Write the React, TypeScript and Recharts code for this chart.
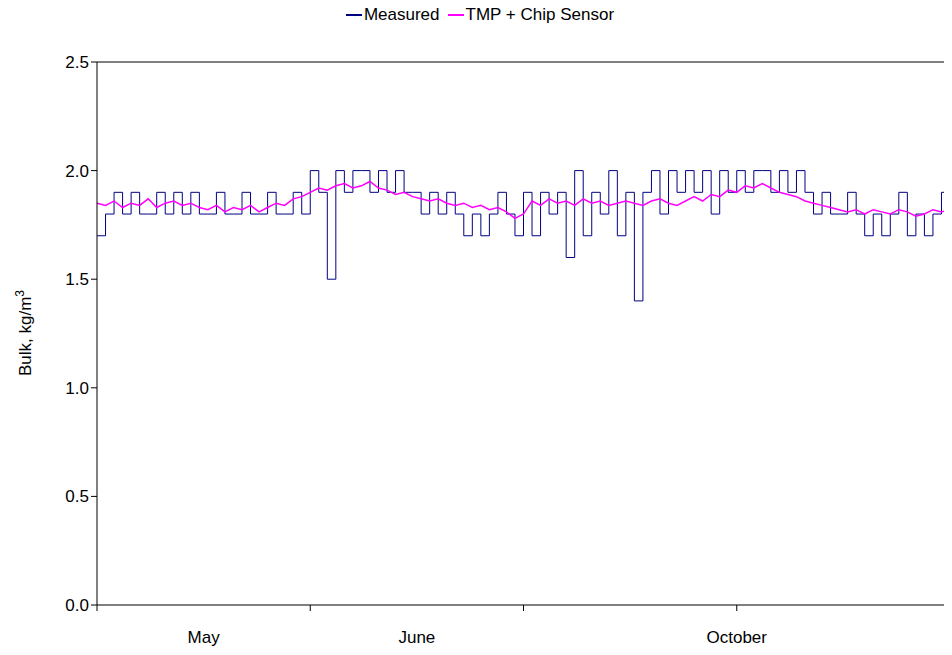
import React from "react";
import { ComposedChart, Line, XAxis, YAxis } from "recharts";

const measured = [1.7,1.8,1.9,1.8,1.9,1.8,1.8,1.9,1.8,1.9,1.8,1.9,1.8,
1.8,1.9,1.8,1.8,1.9,1.8,1.8,1.9,1.8,1.8,1.9,1.8,
2.0,1.9,1.5,2.0,1.9,2.0,2.0,1.9,2.0,1.9,2.0,1.9,
1.9,1.8,1.9,1.8,1.9,1.8,1.7,1.8,1.7,1.8,1.9,1.8,1.7,
1.9,1.7,1.9,1.8,1.9,1.6,2.0,1.7,1.9,1.8,2.0,1.7,1.9,
1.4,1.9,2.0,1.8,2.0,1.9,2.0,1.9,2.0,1.8,2.0,1.9,2.0,1.9,2.0,2.0,1.9,2.0,1.9,2.0,1.9,
1.8,1.9,1.8,1.8,1.9,1.8,1.7,1.8,1.7,1.8,1.9,1.7,1.8,1.7,1.8,1.9,1.8];
const model = [1.85,1.84,1.86,1.83,1.85,1.84,1.87,1.83,1.85,1.86,1.84,1.85,1.83,
1.82,1.84,1.81,1.83,1.82,1.84,1.81,1.83,1.85,1.84,1.87,1.88,
1.90,1.92,1.91,1.93,1.94,1.92,1.93,1.95,1.92,1.91,1.89,1.90,
1.88,1.87,1.86,1.87,1.85,1.84,1.85,1.83,1.84,1.82,1.83,1.81,1.78,
1.80,1.86,1.84,1.87,1.85,1.86,1.84,1.87,1.85,1.86,1.84,1.85,1.86,
1.85,1.84,1.86,1.87,1.85,1.84,1.86,1.88,1.86,1.89,1.88,1.91,1.90,1.93,1.92,1.94,1.92,1.90,1.89,1.88,1.86,
1.85,1.84,1.83,1.82,1.81,1.82,1.80,1.82,1.81,1.80,1.82,1.81,1.79,1.80,1.82,1.81,1.82];
const monthLabels = [{ x: 0.5, t: "May" }, { x: 1.5, t: "June" }, { x: 3, t: "October" }];
const yTicks = [0, 0.5, 1, 1.5, 2, 2.5];

const data = measured.map((m, i) => ({ x: i * 0.04, m, p: model[i] }));
const font = "'Liberation Sans', Arial, sans-serif";

const MonthTick = (props: any) => {
  const lab = monthLabels.find((l) => Math.abs(l.x - props.payload.value) < 1e-6);
  return (
    <text x={props.x} y={643} textAnchor="middle" fontSize={17} fill="#000" fontFamily={font}>
      {lab ? lab.t : ""}
    </text>
  );
};

export default function App() {
  return (
    <div style={{ position: "relative", width: 952, height: 655, margin: -8, background: "#fff", fontFamily: font }}>
      <div style={{ position: "absolute", top: 5, left: 0, width: 952, display: "flex", justifyContent: "center", fontSize: 17, paddingLeft: 8, boxSizing: "border-box" }}>
        <span style={{ display: "inline-flex", alignItems: "center", marginRight: 8 }}>
          <span style={{ width: 16, height: 1.5, background: "#000080", display: "inline-block", marginRight: 2 }} />Measured
        </span>
        <span style={{ display: "inline-flex", alignItems: "center" }}>
          <span style={{ width: 16, height: 1.5, background: "#ff00ff", display: "inline-block", marginRight: 2 }} />TMP + Chip Sensor
        </span>
      </div>
      <ComposedChart width={952} height={655} data={data} margin={{ top: 61, right: 1, bottom: 48, left: 0 }}>
        <XAxis dataKey="x" type="number" domain={[0, 4]} ticks={[0, 1, 2, 3, 4]} tickFormatter={() => ""} tickSize={6} stroke="#000" xAxisId="a" height={1} />
        <XAxis dataKey="x" type="number" domain={[0, 4]} ticks={monthLabels.map((l) => l.x)} tick={<MonthTick />} axisLine={false} tickLine={false} xAxisId="b" height={1} />
        <XAxis dataKey="x" type="number" domain={[0, 4]} orientation="top" tick={false} tickLine={false} stroke="#000" xAxisId="t" height={1} />
        <YAxis type="number" domain={[0, 2.5]} orientation="right" tick={false} tickLine={false} stroke="#000" yAxisId="r" width={1} />
        <YAxis type="number" domain={[0, 2.5]} ticks={yTicks} width={97} stroke="#000" tickSize={6}
          tickFormatter={(v: number) => v.toFixed(1)}
          tick={{ fill: "#000", fontSize: 17, fontFamily: font }}
          label={() => (
            <text x={31} y={333} transform="rotate(-90 31 333)" textAnchor="middle" fontSize={17} fontFamily={font} fill="#000">
              Bulk, kg/m<tspan dy={-7} fontSize={12}>3</tspan>
            </text>
          )} />
        <Line xAxisId="a" type="stepAfter" dataKey="m" stroke="#000080" strokeWidth={1} dot={false} isAnimationActive={false} />
        <Line xAxisId="a" type="linear" dataKey="p" stroke="#ff00ff" strokeWidth={1.5} dot={false} isAnimationActive={false} />
      </ComposedChart>
    </div>
  );
}
